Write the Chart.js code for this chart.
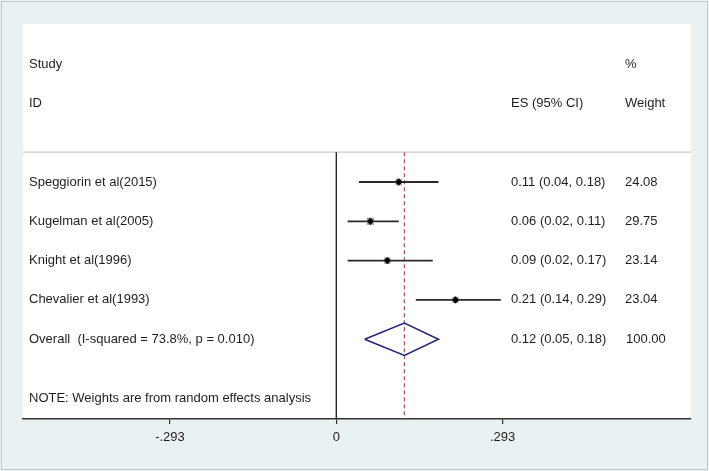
<!DOCTYPE html>
<html><head><meta charset="utf-8">
<script src="https://cdn.jsdelivr.net/npm/chart.js@4.4.1/dist/chart.umd.min.js"></script>
<style>html,body{margin:0;padding:0;background:#e9f1f3;overflow:hidden}canvas{display:block}</style>
</head><body><canvas id="c" width="709" height="471"></canvas>
<script>
// ---- data ----
const studies = ["Speggiorin et al(2015)", "Kugelman et al(2005)", "Knight et al(1996)", "Chevalier et al(1993)"];
const esValues = [0.11, 0.06, 0.09, 0.21];
const ciLow = [0.04, 0.02, 0.02, 0.14];
const ciHigh = [0.18, 0.11, 0.17, 0.29];
const weights = [24.08, 29.75, 23.14, 23.04];
const overallLabel = "Overall  (I-squared = 73.8%, p = 0.010)";
const overallES = [0.12];
const overallLow = [0.05];
const overallHigh = [0.18];
const overallWeight = [100.00];
const noteText = "NOTE: Weights are from random effects analysis";
const headerLeft = ["Study", "ID"];
const headerES = ["", "ES (95% CI)"];
const headerWeight = ["%", "Weight"];
const tickValues = [-0.293, 0, 0.293];
const tickLabels = ["-.293", "0", ".293"];

// ---- layout (row indices on the hidden y scale) ----
const headerRows = [0, 1];
const sepRow = 2.24;
const studyRows = [3, 4, 5, 6];
const overallRow = 7;
const noteRow = 8.5;
const yMin = -1.02, yMax = 9.03;
const xMin = -0.552, xMax = 0.625;
const FONT = '"Liberation Sans", Arial, sans-serif';
const TXT = '#1e1e1e';

const datasets = [];
// CI lines
studies.forEach((s, i) => {
  datasets.push({
    type: 'line', showLine: true, order: 3,
    data: [{x: ciLow[i], y: studyRows[i]}, {x: ciHigh[i], y: studyRows[i]}],
    borderColor: '#2a2a2a', borderWidth: 1.8, pointRadius: 0, fill: false
  });
});
// weight boxes
datasets.push({
  type: 'scatter', order: 2,
  data: studies.map((s, i) => ({x: esValues[i], y: studyRows[i]})),
  pointStyle: 'rect',
  pointRadius: weights.map(w => 0.95 * Math.sqrt(w)),
  backgroundColor: '#a8a8a8', borderWidth: 0
});
// point estimates
datasets.push({
  type: 'scatter', order: 1,
  data: studies.map((s, i) => ({x: esValues[i], y: studyRows[i]})),
  pointStyle: 'rectRot', pointRadius: 3.4,
  backgroundColor: '#000', borderColor: '#000', borderWidth: 0.5
});
// overall diamond
const dh = 0.41;
datasets.push({
  type: 'line', showLine: true, order: 1,
  data: [
    {x: overallLow[0], y: overallRow},
    {x: overallES[0], y: overallRow - dh},
    {x: overallHigh[0], y: overallRow},
    {x: overallES[0], y: overallRow + dh},
    {x: overallLow[0], y: overallRow}
  ],
  borderColor: '#23237a', borderWidth: 1.5, pointRadius: 0, fill: false, tension: 0
});
// null line
datasets.push({
  type: 'line', showLine: true, order: 5,
  data: [{x: 0, y: sepRow}, {x: 0, y: yMax}],
  borderColor: '#1a1a1a', borderWidth: 1.3, pointRadius: 0
});
// overall effect dashed line
datasets.push({
  type: 'line', showLine: true, order: 4,
  data: [{x: overallES[0], y: sepRow}, {x: overallES[0], y: yMax}],
  borderColor: '#b0505c', borderWidth: 1.2, borderDash: [4, 3], pointRadius: 0
});
// separator
datasets.push({
  type: 'line', showLine: true, order: 6,
  data: [{x: xMin, y: sepRow}, {x: xMax, y: sepRow}],
  borderColor: '#c8c8c8', borderWidth: 1.2, pointRadius: 0
});

const bgPlugin = {
  id: 'bg',
  beforeDraw(chart) {
    const ctx = chart.ctx, a = chart.chartArea;
    ctx.save();
    ctx.fillStyle = '#e9f1f3';
    ctx.fillRect(0, 0, chart.width, chart.height);
    ctx.strokeStyle = '#c2cacd';
    ctx.lineWidth = 1;
    ctx.strokeRect(1.5, 1.5, chart.width - 3, chart.height - 3);
    ctx.fillStyle = '#ffffff';
    ctx.fillRect(a.left, a.top, a.right - a.left, a.bottom - a.top);
    ctx.restore();
  }
};

const textPlugin = {
  id: 'txt',
  afterDatasetsDraw(chart) {
    const ctx = chart.ctx, a = chart.chartArea, y = chart.scales.y;
    const colLeft = a.left + 6;
    const colES = a.right - 180;
    const colW = a.right - 66;
    ctx.save();
    ctx.font = '13px ' + FONT;
    ctx.fillStyle = TXT;
    ctx.textBaseline = 'middle';
    ctx.textAlign = 'left';
    headerRows.forEach((r, i) => {
      const py = y.getPixelForValue(r);
      ctx.fillText(headerLeft[i], colLeft, py);
      if (headerES[i]) ctx.fillText(headerES[i], colES, py);
      ctx.fillText(headerWeight[i], colW, py);
    });
    studies.forEach((s, i) => {
      const py = y.getPixelForValue(studyRows[i]);
      ctx.fillText(s, colLeft, py);
      ctx.fillText(esValues[i].toFixed(2) + ' (' + ciLow[i].toFixed(2) + ', ' + ciHigh[i].toFixed(2) + ')', colES, py);
      ctx.fillText(weights[i].toFixed(2), colW, py);
    });
    const po = y.getPixelForValue(overallRow);
    ctx.fillText(overallLabel, colLeft, po);
    ctx.fillText(overallES[0].toFixed(2) + ' (' + overallLow[0].toFixed(2) + ', ' + overallHigh[0].toFixed(2) + ')', colES, po);
    ctx.fillText(overallWeight[0].toFixed(2), colW + 1, po);
    ctx.fillText(noteText, colLeft, y.getPixelForValue(noteRow));
    ctx.restore();
  }
};

new Chart(document.getElementById('c'), {
  type: 'scatter',
  data: {datasets},
  options: {
    responsive: false,
    animation: false,
    devicePixelRatio: 1,
    layout: {padding: {left: 23, right: 18, top: 24, bottom: 22}},
    plugins: {legend: {display: false}, tooltip: {enabled: false}},
    scales: {
      x: {
        type: 'linear', min: xMin, max: xMax,
        afterBuildTicks: s => { s.ticks = tickValues.map(v => ({value: v})); },
        afterFit: s => { s.height = 30; },
        ticks: {
          callback: (v, i) => tickLabels[i],
          color: TXT, font: {family: FONT, size: 13}, padding: 6,
          maxRotation: 0, autoSkip: false
        },
        grid: {drawOnChartArea: false, drawTicks: true, tickLength: 5, color: '#333', lineWidth: 1.2},
        border: {display: true, color: '#333', width: 1.5}
      },
      y: {type: 'linear', min: yMin, max: yMax, reverse: true, display: false}
    }
  },
  plugins: [bgPlugin, textPlugin]
});
</script>
</body></html>
